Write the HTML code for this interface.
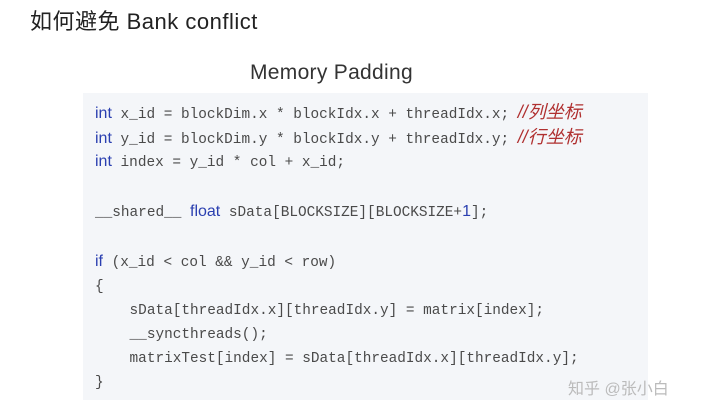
<!DOCTYPE html>
<html><head><meta charset="utf-8"><style>
html,body{margin:0;padding:0;background:#fff;width:720px;height:417px;overflow:hidden;position:relative;font-family:"Liberation Sans","Noto Sans CJK SC",sans-serif}
.t{position:absolute;left:30px;top:4px;font-size:22px;color:#222;letter-spacing:0.5px}
.m{position:absolute;left:250px;top:61px;font-size:21px;color:#333;letter-spacing:0.3px}
.box{position:absolute;left:83px;top:93px;width:565px;height:307px;background:#f4f6f9}
.c{position:absolute;left:95px;font-family:"Liberation Mono","Noto Sans CJK SC",monospace;font-size:14.4px;color:#4a4a4a;white-space:pre;line-height:18px}
.k{color:#2a3fb0;font-family:"Liberation Sans",sans-serif;font-size:16px}
.cm{color:#b03030;font-style:italic;font-family:"Liberation Sans","Noto Sans CJK SC",sans-serif;font-size:18px}
.w{position:absolute;left:568px;top:375px;font-size:16px;color:#bbb}
</style></head><body>
<div class="t">如何避免 Bank conflict</div>
<div class="m">Memory Padding</div>
<div class="box"></div>
<div class="c" style="top:103px"><span class="k">int</span> x_id = blockDim.x * blockIdx.x + threadIdx.x; <span class="cm">//列坐标</span></div>
<div class="c" style="top:128px"><span class="k">int</span> y_id = blockDim.y * blockIdx.y + threadIdx.y; <span class="cm">//行坐标</span></div>
<div class="c" style="top:153px"><span class="k">int</span> index = y_id * col + x_id;</div>
<div class="c" style="top:203px">__shared__ <span class="k">float</span> sData[BLOCKSIZE][BLOCKSIZE+<span class="k">1</span>];</div>
<div class="c" style="top:253px"><span class="k">if</span> (x_id &lt; col &amp;&amp; y_id &lt; row)</div>
<div class="c" style="top:278px">{</div>
<div class="c" style="top:302px">    sData[threadIdx.x][threadIdx.y] = matrix[index];</div>
<div class="c" style="top:326px">    __syncthreads();</div>
<div class="c" style="top:350px">    matrixTest[index] = sData[threadIdx.x][threadIdx.y];</div>
<div class="c" style="top:374px">}</div>
<div class="w">知乎 @张小白</div>
</body></html>
